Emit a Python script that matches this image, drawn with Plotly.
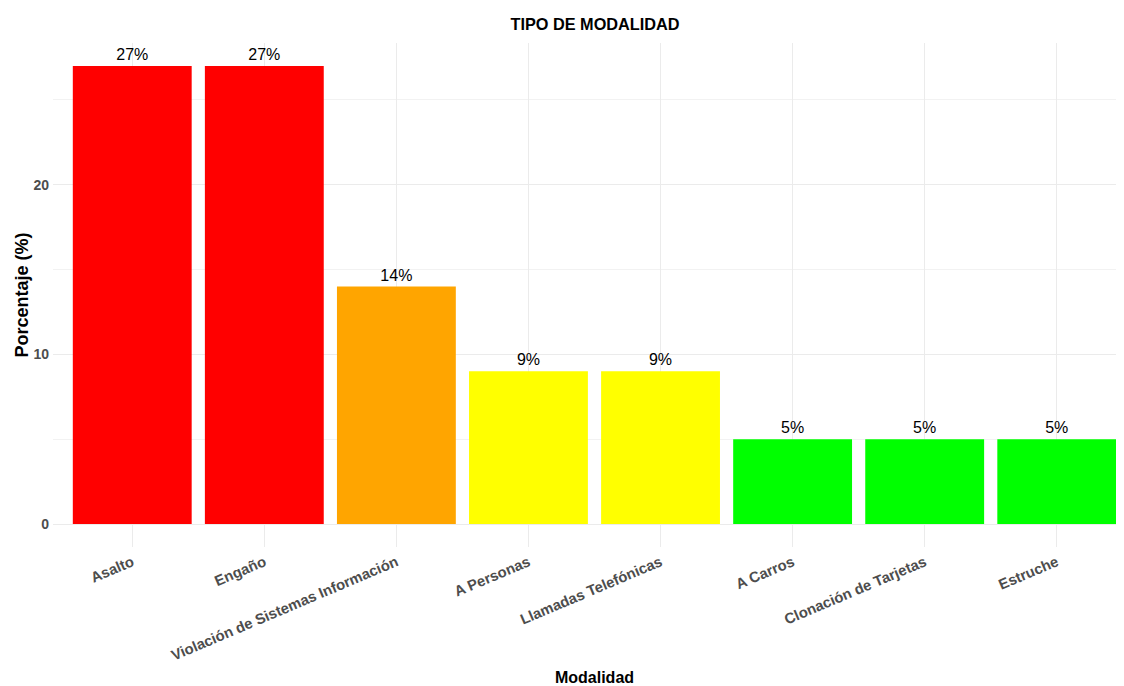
import plotly.graph_objects as go

categorias = ["Asalto", "Engaño", "Violación de Sistemas Información", "A Personas",
              "Llamadas Telefónicas", "A Carros", "Clonación de Tarjetas", "Estruche"]
porcentajes = [27, 27, 14, 9, 9, 5, 5, 5]
colores = ["#FF0000", "#FF0000", "#FFA500", "#FFFF00", "#FFFF00", "#00FF00", "#00FF00", "#00FF00"]
etiquetas = [f"{v}%" for v in porcentajes]

FONT = "Liberation Sans, Arial, Helvetica, sans-serif"

fig = go.Figure(go.Bar(
    x=categorias, y=porcentajes,
    marker=dict(color=colores, line=dict(width=0)),
    text=etiquetas, textposition="outside", cliponaxis=False,
    textfont=dict(family=FONT, size=16, color="black"),
    hoverinfo="x+y",
))

fig.update_layout(
    width=1128, height=678,
    paper_bgcolor="white", plot_bgcolor="white",
    margin=dict(l=45, r=0, t=35, b=139, autoexpand=False),
    bargap=0.1,
    showlegend=False,
    title=dict(text="<b>TIPO DE MODALIDAD</b>", x=0.5204, xanchor="center", y=0.9757, yanchor="middle",
               font=dict(family=FONT, size=16.3, color="black")),
    font=dict(family=FONT),
)

fig.update_xaxes(
    range=[-0.6, 7.6],
    tickangle=-23,
    automargin=False,
    tickfont=dict(family=FONT, size=14.8, color="#4D4D4D", weight="bold"),
    showgrid=True, gridcolor="#EBEBEB", gridwidth=1,
    ticks="", ticklabelstandoff=3, zeroline=False, showline=False,
    title=dict(text="<b>Modalidad</b>", font=dict(family=FONT, size=16, color="black"), standoff=9),
)

fig.update_yaxes(
    range=[-1.35, 28.35],
    tickvals=[0, 10, 20],
    automargin=False,
    tickfont=dict(family=FONT, size=14, color="#4D4D4D", weight="bold"),
    showgrid=True, gridcolor="#EBEBEB", gridwidth=1,
    minor=dict(tickvals=[5, 15, 25], showgrid=True, gridcolor="#F2F2F2", gridwidth=1, ticks=""),
    ticks="", ticklabelstandoff=3, zeroline=False, showline=False,
    title=dict(text="<b>Porcentaje (%)</b>", font=dict(family=FONT, size=18, color="black"), standoff=0),
)

fig.write_html("out.html")
